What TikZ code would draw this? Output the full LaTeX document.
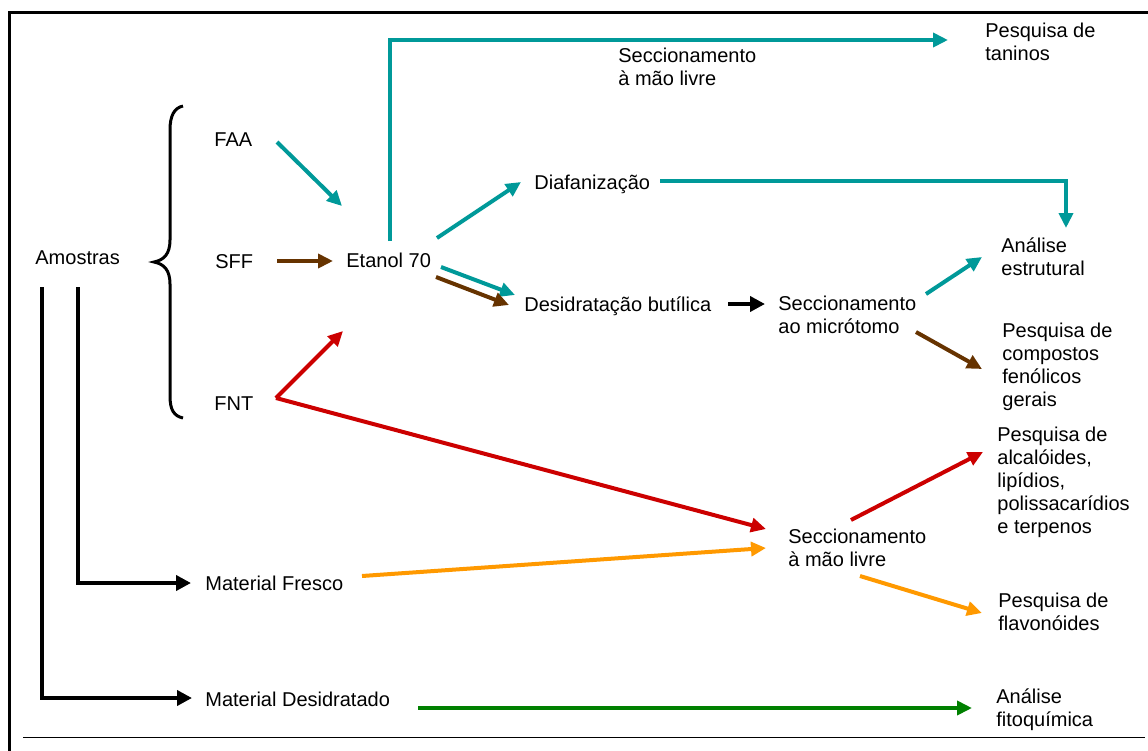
\documentclass[tikz,border=0pt]{standalone}
\usepackage{fontspec}
\setmainfont{Liberation Sans}
\usetikzlibrary{arrows.meta,calc}
\definecolor{cteal}{RGB}{0,153,153}
\definecolor{cbrown}{RGB}{102,51,0}
\definecolor{cred}{RGB}{204,0,0}
\definecolor{corange}{RGB}{255,153,0}
\definecolor{cgreen}{RGB}{0,128,0}
\begin{document}
\begin{tikzpicture}[x=0.5pt,y=-0.5pt,
  lbl/.style={anchor=base west, inner sep=0pt, align=left, font=\fontsize{10}{11.5}\selectfont},
  arr/.style={line width=2pt, -{Triangle[length=7.5pt,width=7pt]}},
  blk/.style={line width=2.3pt, -{Triangle[length=7.5pt,width=7.5pt]}}]
\useasboundingbox (0,0) rectangle (1148,751);
% frame
\draw[line width=1.5pt] (9,751) -- (9,12) -- (1148,12);
\draw[line width=0.5pt] (23,737) -- (1145,737);
% labels (base = baseline of the last line)
\node[lbl] (amostras) at (35,264) {Amostras};
\node[lbl] (faa) at (214,146) {FAA};
\node[lbl] (sff) at (215,268) {SFF};
\node[lbl] (fnt) at (214,410) {FNT};
\node[lbl] (etanol) at (346,267) {Etanol 70};
\node[lbl] (diaf) at (534,189) {Diafanização};
\node[lbl] (desid) at (524,311) {Desidratação butílica};
\node[lbl] (secmic) at (778,333) {Seccionamento\\ao micrótomo};
\node[lbl] (anest) at (1001,275) {Análise\\estrutural};
\node[lbl] (pqcomp) at (1002,406) {Pesquisa de\\compostos\\fenólicos\\gerais};
\node[lbl] (pqalc) at (997,533) {Pesquisa de\\alcalóides,\\lipídios,\\polissacarídios\\e terpenos};
\node[lbl] (secmao) at (788,566) {Seccionamento\\à mão livre};
\node[lbl] (pqflav) at (998,630) {Pesquisa de\\flavonóides};
\node[lbl] (anfito) at (996,726) {Análise\\fitoquímica};
\node[lbl] (matfresco) at (205,590) {Material Fresco};
\node[lbl] (matdes) at (205,706) {Material Desidratado};
\node[lbl] (sectop) at (618,85) {Seccionamento\\à mão livre};
\node[lbl] (pqtan) at (985,60) {Pesquisa de\\taninos};
% brace
\draw[line width=1.5pt] (183,106) .. controls (174,108) and (170,116) .. (170,130) -- (170,240)
  .. controls (170,254) and (164,260) .. (154,262) .. controls (164,264) and (170,270) .. (170,284)
  -- (170,396) .. controls (170,410) and (174,416) .. (183,418);
% arrows
\draw[arr,cteal] ($(faa.base west)+(63,-4)$) -- ($(etanol.base west)+(-4,-61)$);
\draw[arr,cbrown] ($(sff.base west)+(62,-7)$) -- ($(etanol.base west)+(-13,-6)$);
\draw[arr,cred] ($(fnt.base west)+(62,-12)$) -- ($(etanol.base west)+(-3,64)$);
\draw[arr,cred] ($(fnt.base west)+(62,-12)$) -- ($(secmao.base west)+(-22,-37)$);
\draw[arr,cteal] ($(etanol.base west)+(91,-29)$) -- ($(diaf.base west)+(-13,-7)$);
\draw[arr,cteal] ($(etanol.base west)+(95,0)$) -- ($(desid.base west)+(-9,-16)$);
\draw[arr,cbrown] ($(etanol.base west)+(90,10)$) -- ($(desid.base west)+(-15,-6)$);
\draw[arr,cteal] ($(etanol.base west)+(44,-26)$) |- ($(pqtan.base west)+(-37,-20)$);
\draw[arr,cteal] ($(diaf.base west)+(126,-8)$) -| ($(anest.base west)+(65,-47)$);
\draw[blk,black] ($(desid.base west)+(204,-7)$) -- ($(secmic.base west)+(-13,-29)$);
\draw[arr,cteal] ($(secmic.base west)+(148,-39)$) -- ($(anest.base west)+(-19,-18)$);
\draw[arr,cbrown] ($(secmic.base west)+(138,-1)$) -- ($(pqcomp.base west)+(-20,-37)$);
\draw[arr,cred] ($(secmao.base west)+(63,-46)$) -- ($(pqalc.base west)+(-14,-81)$);
\draw[arr,corange] ($(matfresco.base west)+(157,-14)$) -- ($(secmao.base west)+(-22,-18)$);
\draw[arr,corange] ($(secmao.base west)+(72,10)$) -- ($(pqflav.base west)+(-16,-17)$);
\draw[arr,cgreen] ($(matdes.base west)+(213,2)$) -- ($(anfito.base west)+(-24,-18)$);
\draw[blk] ($(amostras.base west)+(43,23)$) |- ($(matfresco.base west)+(-14,-7)$);
\draw[blk] ($(amostras.base west)+(7,23)$) |- ($(matdes.base west)+(-13,-8)$);
\end{tikzpicture}
\end{document}
